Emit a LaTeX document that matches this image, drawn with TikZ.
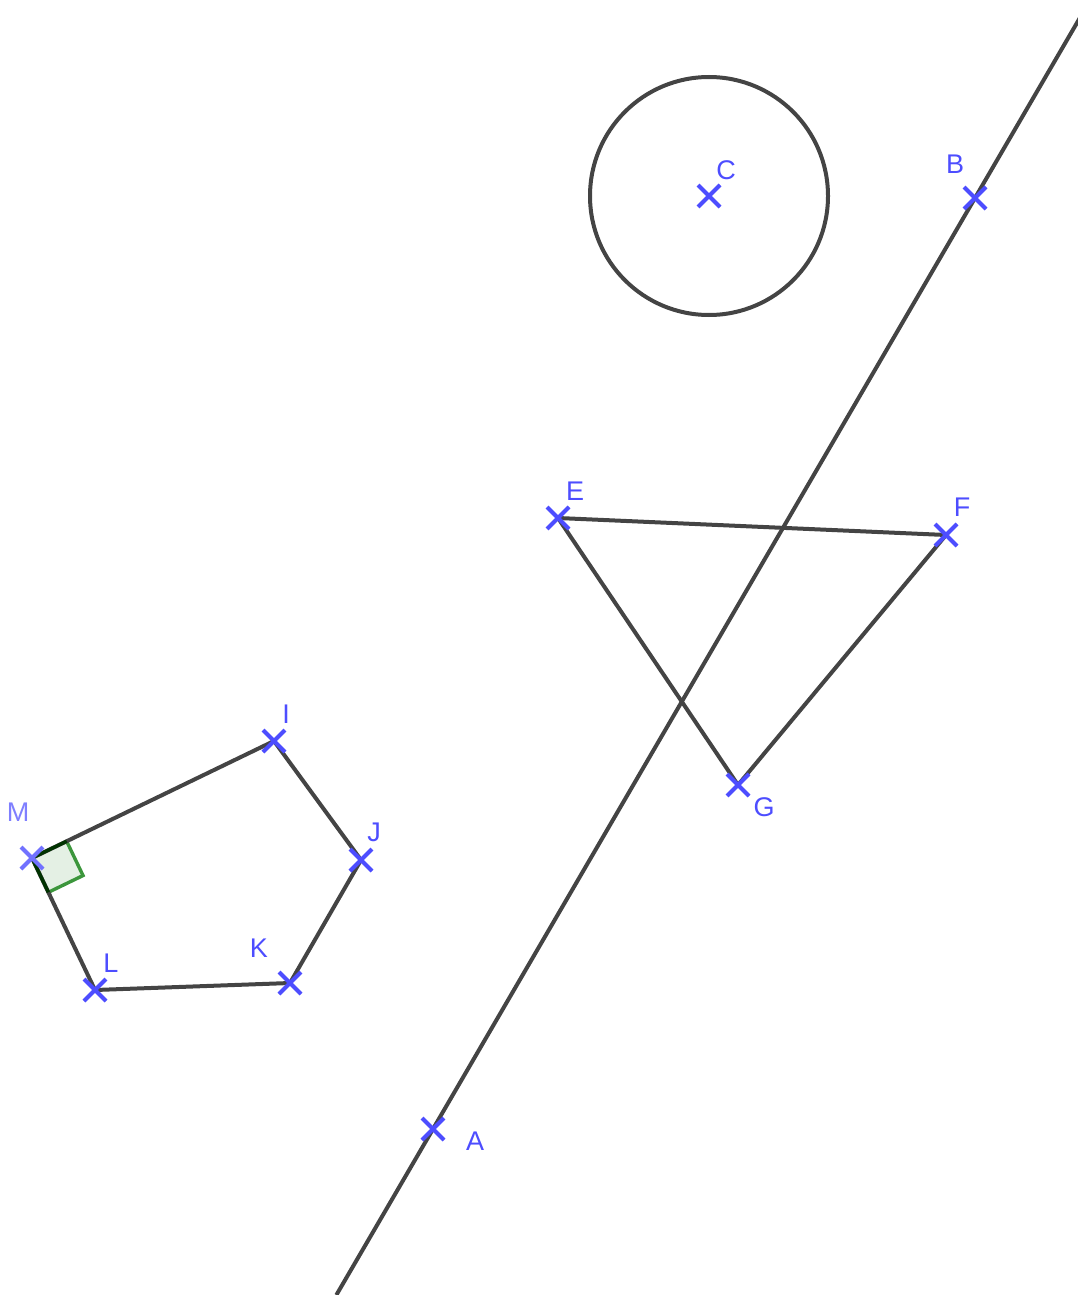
\documentclass[tikz,border=0pt]{standalone}
\usepackage{fontspec}
\setmainfont{Liberation Sans}
\usetikzlibrary{calc}
\definecolor{ptblue}{RGB}{77,77,255}
\definecolor{ptlight}{RGB}{127,127,255}
\definecolor{segc}{RGB}{68,68,68}
\definecolor{angc}{RGB}{60,150,60}
\definecolor{angfill}{RGB}{228,240,228}
\begin{document}
\begin{tikzpicture}[x=1pt,y=-1pt,
  seg/.style={draw=segc,line width=4pt},
  lab/.style={text=ptblue,font=\fontsize{27}{27}\selectfont,inner sep=0pt},
  crossmark/.style={draw=ptblue,line width=4pt}]
\useasboundingbox (0,0) rectangle (1078,1295);
% points
\coordinate (A) at (433,1129);
\coordinate (B) at (975,198);
\coordinate (C) at (709,196);
\coordinate (E) at (558,518);
\coordinate (F) at (946,535);
\coordinate (G) at (738,785);
\coordinate (I) at (274,741);
\coordinate (J) at (361,860);
\coordinate (K) at (290,983);
\coordinate (L) at (95,990);
\coordinate (M) at (32,858);
% line AB
\coordinate (AB1) at ($(A)!-0.1783!(B)$);
\coordinate (AB2) at ($(A)!1.2127!(B)$);
\draw[seg] (AB1) -- (AB2);
% circle
\draw[seg] (C) circle (119);
% triangle-ish
\draw[seg] (E) -- (F) -- (G) -- cycle;
% right angle
\coordinate (Q1) at ($(M)!38.5pt!(I)$);
\coordinate (Q3) at ($(M)!38pt!(L)$);
\coordinate (Q2) at ($(Q1)+(Q3)-(M)$);
\fill[angfill] (M) -- (Q1) -- (Q2) -- (Q3) -- cycle;
\draw[angc,line width=3.4pt,line join=miter] (Q1) -- (Q2) -- (Q3);
% pentagon
\draw[seg,line join=round] (M) -- (I) -- (J) -- (K) -- (L) -- cycle;
\draw[black!80!green,line width=3.4pt] (Q1) -- (M) -- (Q3);
% crosses
\foreach \p in {A,B,C,E,F,G,I,J,K,L}{
  \draw[crossmark] ($(\p)+(-11,-11)$) -- ($(\p)+(11,11)$) ($(\p)+(-11,11)$) -- ($(\p)+(11,-11)$);
}
\draw[crossmark,draw=ptblue!80!white] ($(M)+(-11,-11)$) -- ($(M)+(11,11)$) ($(M)+(-11,11)$) -- ($(M)+(11,-11)$);
% labels
\node[lab] (lA) at (475,1141) {A};
\node[lab] (lB) at (955,164) {B};
\node[lab] (lC) at (726,170) {C};
\node[lab] (lE) at (575,491) {E};
\node[lab] (lF) at (962,507) {F};
\node[lab] (lG) at (764,807) {G};
\node[lab] (lI) at (286,714) {I};
\node[lab] (lJ) at (374,832) {J};
\node[lab] (lK) at (259,948) {K};
\node[lab] (lL) at (111,963) {L};
\node[lab,text=ptlight] (lM) at (18,812) {M};
\end{tikzpicture}
\end{document}
